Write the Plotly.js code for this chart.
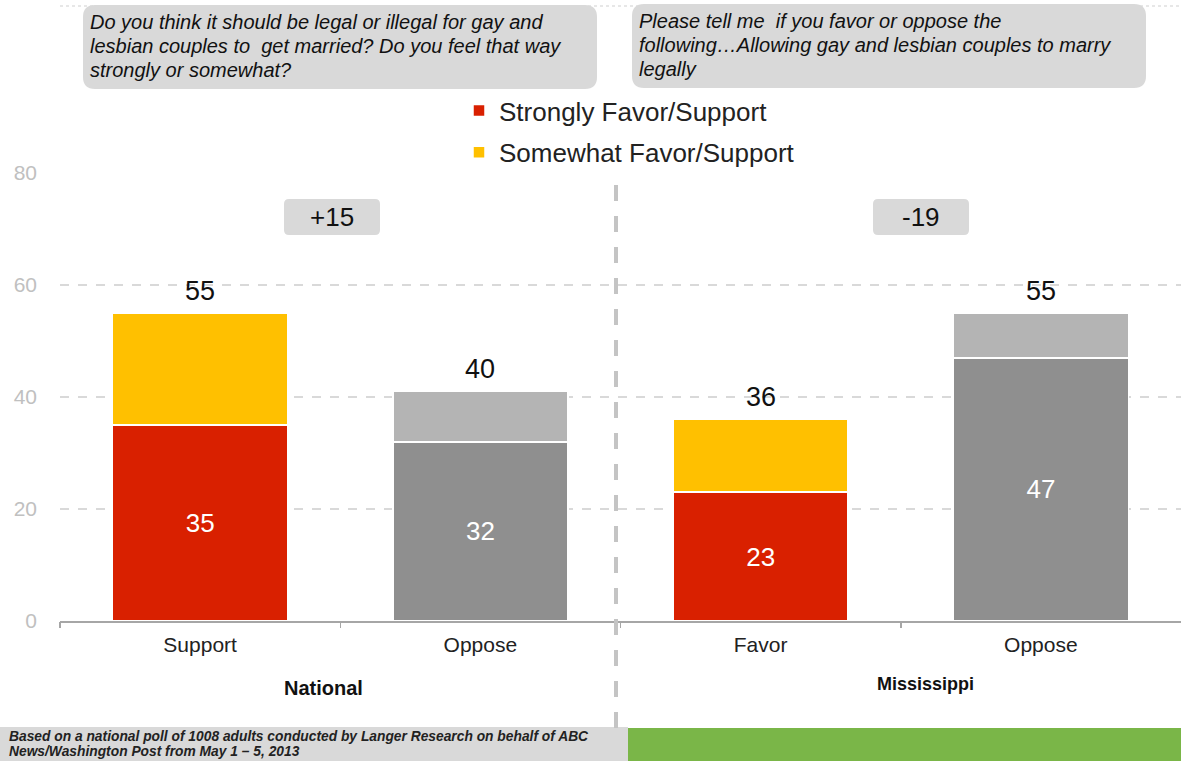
<!DOCTYPE html>
<html><head><meta charset="utf-8">
<script src="https://cdn.plot.ly/plotly-3.0.1.min.js"></script>
<style>html,body{margin:0;padding:0;background:#fff;}#chart{width:1181px;height:761px;}</style>
</head><body><div id="chart"></div>
<script>
// ---- data ----
var categories = ["Support", "Oppose", "Favor", "Oppose"];
var strongValues = [35, 32, 23, 47];
var somewhatValues = [20, 9, 13, 8];
var totalLabels = [55, 40, 36, 55];
var groupLabels = ["National", "Mississippi"];
var diffLabels = ["+15", "-19"];
var seriesNames = ["Strongly Favor/Support", "Somewhat Favor/Support"];
var yTicks = [0, 20, 40, 60, 80];
var questionLeft = ["Do you think it should be legal or illegal for gay and",
                    "lesbian couples to  get married? Do you feel that way",
                    "strongly or somewhat?"];
var questionRight = ["Please tell me  if you favor or oppose the",
                     "following…Allowing gay and lesbian couples to marry",
                     "legally"];
var footnote = ["Based on a national poll of 1008 adults conducted by Langer Research on behalf of ABC",
                "News/Washington Post from May 1 – 5, 2013"];

// ---- layout helpers ----
var W = 1181, H = 761, L = 60, R = 0, T = 173, B = 140;
var PW = W - L - R, PH = H - T - B;
function px(x) { return (x - L) / PW; }
function py(y) { return (H - B - y) / PH; }
function roundRect(x0, y0, x1, y1, r) {
  var X = px, Y = py;
  return "M" + X(x0 + r) + "," + Y(y0) + " L" + X(x1 - r) + "," + Y(y0) +
    " Q" + X(x1) + "," + Y(y0) + " " + X(x1) + "," + Y(y0 + r) +
    " L" + X(x1) + "," + Y(y1 - r) + " Q" + X(x1) + "," + Y(y1) + " " + X(x1 - r) + "," + Y(y1) +
    " L" + X(x0 + r) + "," + Y(y1) + " Q" + X(x0) + "," + Y(y1) + " " + X(x0) + "," + Y(y1 - r) +
    " L" + X(x0) + "," + Y(y0 + r) + " Q" + X(x0) + "," + Y(y0) + " " + X(x0 + r) + "," + Y(y0) + " Z";
}

var FONT = "Arial, 'Liberation Sans', sans-serif";
var idx = categories.map(function (_, i) { return i; });
var strongColors = ["#d92000", "#8f8f8f", "#d92000", "#8f8f8f"];
var somewhatColors = ["#ffc000", "#b4b4b4", "#ffc000", "#b4b4b4"];

var traces = [
  {
    type: "bar", name: seriesNames[0], x: idx, y: strongValues, legendgroup: "a",
    marker: { color: strongColors, line: { color: "#ffffff", width: 1.5 } },
    text: strongValues.map(String), textposition: "inside", insidetextanchor: "middle",
    textfont: { family: FONT, size: 26, color: "#ffffff" }, hoverinfo: "skip"
  },
  {
    type: "bar", name: seriesNames[1], x: idx, y: somewhatValues, legendgroup: "b",
    marker: { color: somewhatColors, line: { color: "#ffffff", width: 1.5 } },
    hoverinfo: "skip"
  },
  { type: "scatter", x: [-0.5, 3.5], y: [0, 0], xaxis: "x2", mode: "markers",
    marker: { opacity: 0 }, showlegend: false, hoverinfo: "skip" }
];

function paperText(x, y, text, size, extra) {
  var a = { x: px(x), y: py(y), xref: "paper", yref: "paper", text: text, showarrow: false,
    xanchor: "center", yanchor: "middle", font: { family: FONT, size: size, color: "#111" } };
  for (var k in (extra || {})) a[k] = extra[k];
  return a;
}

var annotations = [];
idx.forEach(function (i) {
  annotations.push({
    x: i, y: strongValues[i] + somewhatValues[i], xref: "x", yref: "y",
    text: String(totalLabels[i]), showarrow: false, xanchor: "center", yanchor: "middle", yshift: 22,
    font: { family: FONT, size: 27, color: "#111" }
  });
});
annotations.push(paperText(323, 688, "<b>" + groupLabels[0] + "</b>", 20));
annotations.push(paperText(926, 684, "<b>" + groupLabels[1] + "</b>", 18));
annotations.push(paperText(332, 217, diffLabels[0], 26));
annotations.push(paperText(921, 217, diffLabels[1], 26));
questionLeft.forEach(function (t, i) {
  annotations.push(paperText(88, 22 + 24 * i, "<i>" + t + "</i>", 20, { xanchor: "left" }));
});
questionRight.forEach(function (t, i) {
  annotations.push(paperText(637, 21 + 24 * i, "<i>" + t + "</i>", 20, { xanchor: "left" }));
});
footnote.forEach(function (t, i) {
  annotations.push(paperText(7, 736 + 15 * i, "<b><i>" + t + "</i></b>", 13.8,
    { xanchor: "left", font: { family: FONT, size: 13.8, color: "#222" } }));
});

var shapes = [
  { type: "line", xref: "paper", yref: "paper", x0: px(60), x1: px(1181), y0: py(6), y1: py(6),
    line: { color: "#cfcfcf", width: 1, dash: "dot" }, layer: "below" },
  { type: "path", xref: "paper", yref: "paper", path: roundRect(83, 5, 597, 89, 12),
    fillcolor: "#d9d9d9", line: { width: 0 } },
  { type: "path", xref: "paper", yref: "paper", path: roundRect(632, 4, 1146, 88, 12),
    fillcolor: "#d9d9d9", line: { width: 0 } },
  { type: "rect", xref: "paper", yref: "paper", x0: px(295), x1: px(985), y0: py(168), y1: py(178),
    fillcolor: "#ffffff", line: { width: 0 }, layer: "above" },
  { type: "path", xref: "paper", yref: "paper", path: roundRect(284, 199, 380, 235, 5),
    fillcolor: "#d9d9d9", line: { width: 0 } },
  { type: "path", xref: "paper", yref: "paper", path: roundRect(873, 199, 969, 235, 5),
    fillcolor: "#d9d9d9", line: { width: 0 } },
  { type: "line", xref: "paper", yref: "paper", x0: px(616), x1: px(616), y0: py(185), y1: py(735),
    line: { color: "#c4c4c4", width: 4, dash: "16px,15px" }, layer: "above" },
  { type: "rect", xref: "paper", yref: "paper", x0: px(0), x1: px(628), y0: py(727), y1: py(761),
    fillcolor: "#d9d9d9", line: { width: 0 }, layer: "below" },
  { type: "rect", xref: "paper", yref: "paper", x0: px(628), x1: px(1181), y0: py(728), y1: py(761),
    fillcolor: "#7ab648", line: { width: 0 }, layer: "below" }
];

var layout = {
  width: W, height: H,
  margin: { l: L, r: R, t: T, b: B, pad: 0 },
  paper_bgcolor: "#ffffff", plot_bgcolor: "#ffffff",
  barmode: "stack", bargap: 0.375,
  font: { family: FONT, color: "#222" },
  showlegend: true,
  legend: { x: px(459), y: py(87), xanchor: "left", yanchor: "top", orientation: "v",
    font: { family: FONT, size: 26, color: "#222" }, bgcolor: "rgba(0,0,0,0)",
    traceorder: "grouped", tracegroupgap: 5, itemwidth: 30 },
  xaxis: {
    range: [-0.5, 3.5], tickmode: "array", tickvals: idx, ticktext: categories,
    ticks: "", showgrid: false, zeroline: false, showline: true, linecolor: "#a6a6a6", linewidth: 1.5,
    tickfont: { family: FONT, size: 21, color: "#222" }, ticklabelstandoff: 4, fixedrange: true
  },
  xaxis2: {
    overlaying: "x", anchor: "y", range: [-0.5, 3.5], tickmode: "array",
    tickvals: [-0.5, 0.5, 1.5, 2.5], ticks: "outside", ticklen: 6, tickwidth: 1.5, tickcolor: "#a6a6a6",
    showticklabels: false, showgrid: false, zeroline: false, showline: false, side: "bottom"
  },
  yaxis: {
    range: [0, 80], tickmode: "array", tickvals: yTicks, ticks: "",
    showgrid: true, gridcolor: "#d9d9d9", gridwidth: 2, griddash: "dash",
    zeroline: false, showline: false,
    tickfont: { family: FONT, size: 21, color: "#c0c0c0" }, ticklabelstandoff: 22, fixedrange: true
  },
  annotations: annotations,
  shapes: shapes
};

Plotly.newPlot("chart", traces, layout, { displayModeBar: false, staticPlot: true });
</script>
</body></html>
